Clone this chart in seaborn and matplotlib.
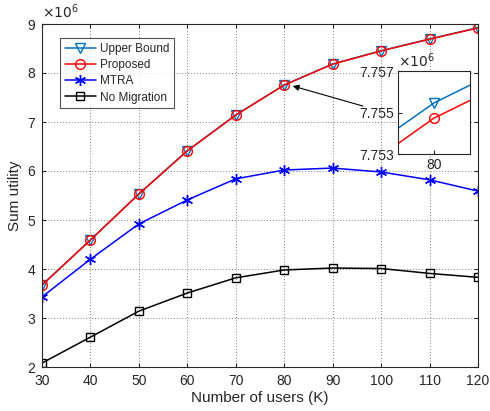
import numpy as np
import pandas as pd
import matplotlib
matplotlib.use("Agg")
import matplotlib.pyplot as plt
import seaborn as sns

users = [30, 40, 50, 60, 70, 80, 90, 100, 110, 120]
upper_bound = [3.675, 4.595, 5.535, 6.415, 7.145, 7.75546, 8.185, 8.455, 8.695, 8.925]
proposed = [3.67, 4.59, 5.53, 6.41, 7.14, 7.75473, 8.18, 8.45, 8.69, 8.92]
mtra = [3.43, 4.20, 4.92, 5.41, 5.84, 6.02, 6.06, 5.98, 5.82, 5.59]
no_migration = [2.08, 2.61, 3.14, 3.51, 3.82, 3.98, 4.02, 4.01, 3.91, 3.83]
series_names = ["Upper Bound", "Proposed", "MTRA", "No Migration"]
xticks = [30, 40, 50, 60, 70, 80, 90, 100, 110, 120]
yticks = [2, 3, 4, 5, 6, 7, 8, 9]
inset_yticks = [7.753, 7.755, 7.757]

sns.set_style("ticks")
plt.rcParams['font.family'] = ['Liberation Sans', 'DejaVu Sans']
plt.rcParams['font.size'] = 9

fig = plt.figure(figsize=(4.9, 4.11), dpi=100)
ax = fig.add_axes([42/490, 1 - 367/411, (478-42)/490, (367-24)/411])

styles = [
    dict(color="#0072BD", marker="v", ms=7),
    dict(color="#FF0000", marker="o", ms=7),
    dict(color="#0000FF", marker=(6, 2, 0), ms=8),
    dict(color="#000000", marker="s", ms=6),
]
all_vals = [upper_bound, proposed, mtra, no_migration]

for name, vals, st in zip(series_names, all_vals, styles):
    df = pd.DataFrame({"K": users, "U": np.array(vals) * 1e6})
    sns.lineplot(data=df, x="K", y="U", ax=ax, color=st["color"], marker=st["marker"],
                 markersize=st["ms"], markerfacecolor="none", markeredgecolor=st["color"],
                 markeredgewidth=1.0, label=name, linewidth=1.1)

ax.set_xlim(30, 120)
ax.set_ylim(2e6, 9e6)
ax.set_xticks(xticks)
ax.set_yticks([v * 1e6 for v in yticks])
ax.set_yticklabels([str(v) for v in yticks])
ax.grid(True, linestyle=(0, (1, 2)), color="#444444", linewidth=0.7, alpha=0.7)
for sp in ax.spines.values():
    sp.set_visible(True)
    sp.set_color("#262626")
    sp.set_linewidth(0.8)
ax.tick_params(direction="in", length=3, colors="#262626", labelsize=10, pad=5,
               top=True, right=True)
ax.set_xlabel("Number of users (K)", fontsize=11, color="#262626", labelpad=2)
ax.set_ylabel("Sum utility", fontsize=11, color="#262626", labelpad=4)
ax.text(0.0, 1.01, r"$\times10^{6}$", transform=ax.transAxes, fontsize=10,
        color="#262626", ha="left", va="bottom")

leg = ax.legend(loc="upper left", bbox_to_anchor=(0.028, 0.975), fontsize=8.5,
                frameon=True, fancybox=False, edgecolor="#262626", handlelength=2.6,
                borderpad=0.4, labelspacing=0.35, handletextpad=0.4)
leg.get_frame().set_linewidth(0.8)

# arrow pointing to the zoomed point
ax.annotate("", xy=(81.2, 7.75e6), xytext=(96.8, 7.31e6),
            arrowprops=dict(arrowstyle="-|>", color="black", lw=0.8, mutation_scale=9))

# inset
axin = fig.add_axes([398/490, 1 - 154/411, (470-398)/490, (154-71)/411])
for name, vals, st in zip(series_names[:2], all_vals[:2], styles[:2]):
    df = pd.DataFrame({"K": users, "U": np.array(vals) * 1e6})
    sns.lineplot(data=df, x="K", y="U", ax=axin, color=st["color"], marker=st["marker"],
                 markersize=st["ms"], markerfacecolor="none", markeredgecolor=st["color"],
                 markeredgewidth=1.0, linewidth=1.1, legend=False)
axin.set_xlim(79.98, 80.02)
axin.set_ylim(7.753e6, 7.757e6)
axin.set_xticks([80])
axin.set_yticks([v * 1e6 for v in inset_yticks])
axin.set_yticklabels([f"{v:.3f}" for v in inset_yticks])
axin.set_xlabel("")
axin.set_ylabel("")
axin.tick_params(direction="in", length=3, colors="#262626", labelsize=10, pad=3)
for sp in axin.spines.values():
    sp.set_color("#262626")
    sp.set_linewidth(0.8)
axin.text(0.0, 1.01, r"$\times10^{6}$", transform=axin.transAxes, fontsize=10,
          color="#262626", ha="left", va="bottom")

fig.savefig("out.png", dpi=100)
